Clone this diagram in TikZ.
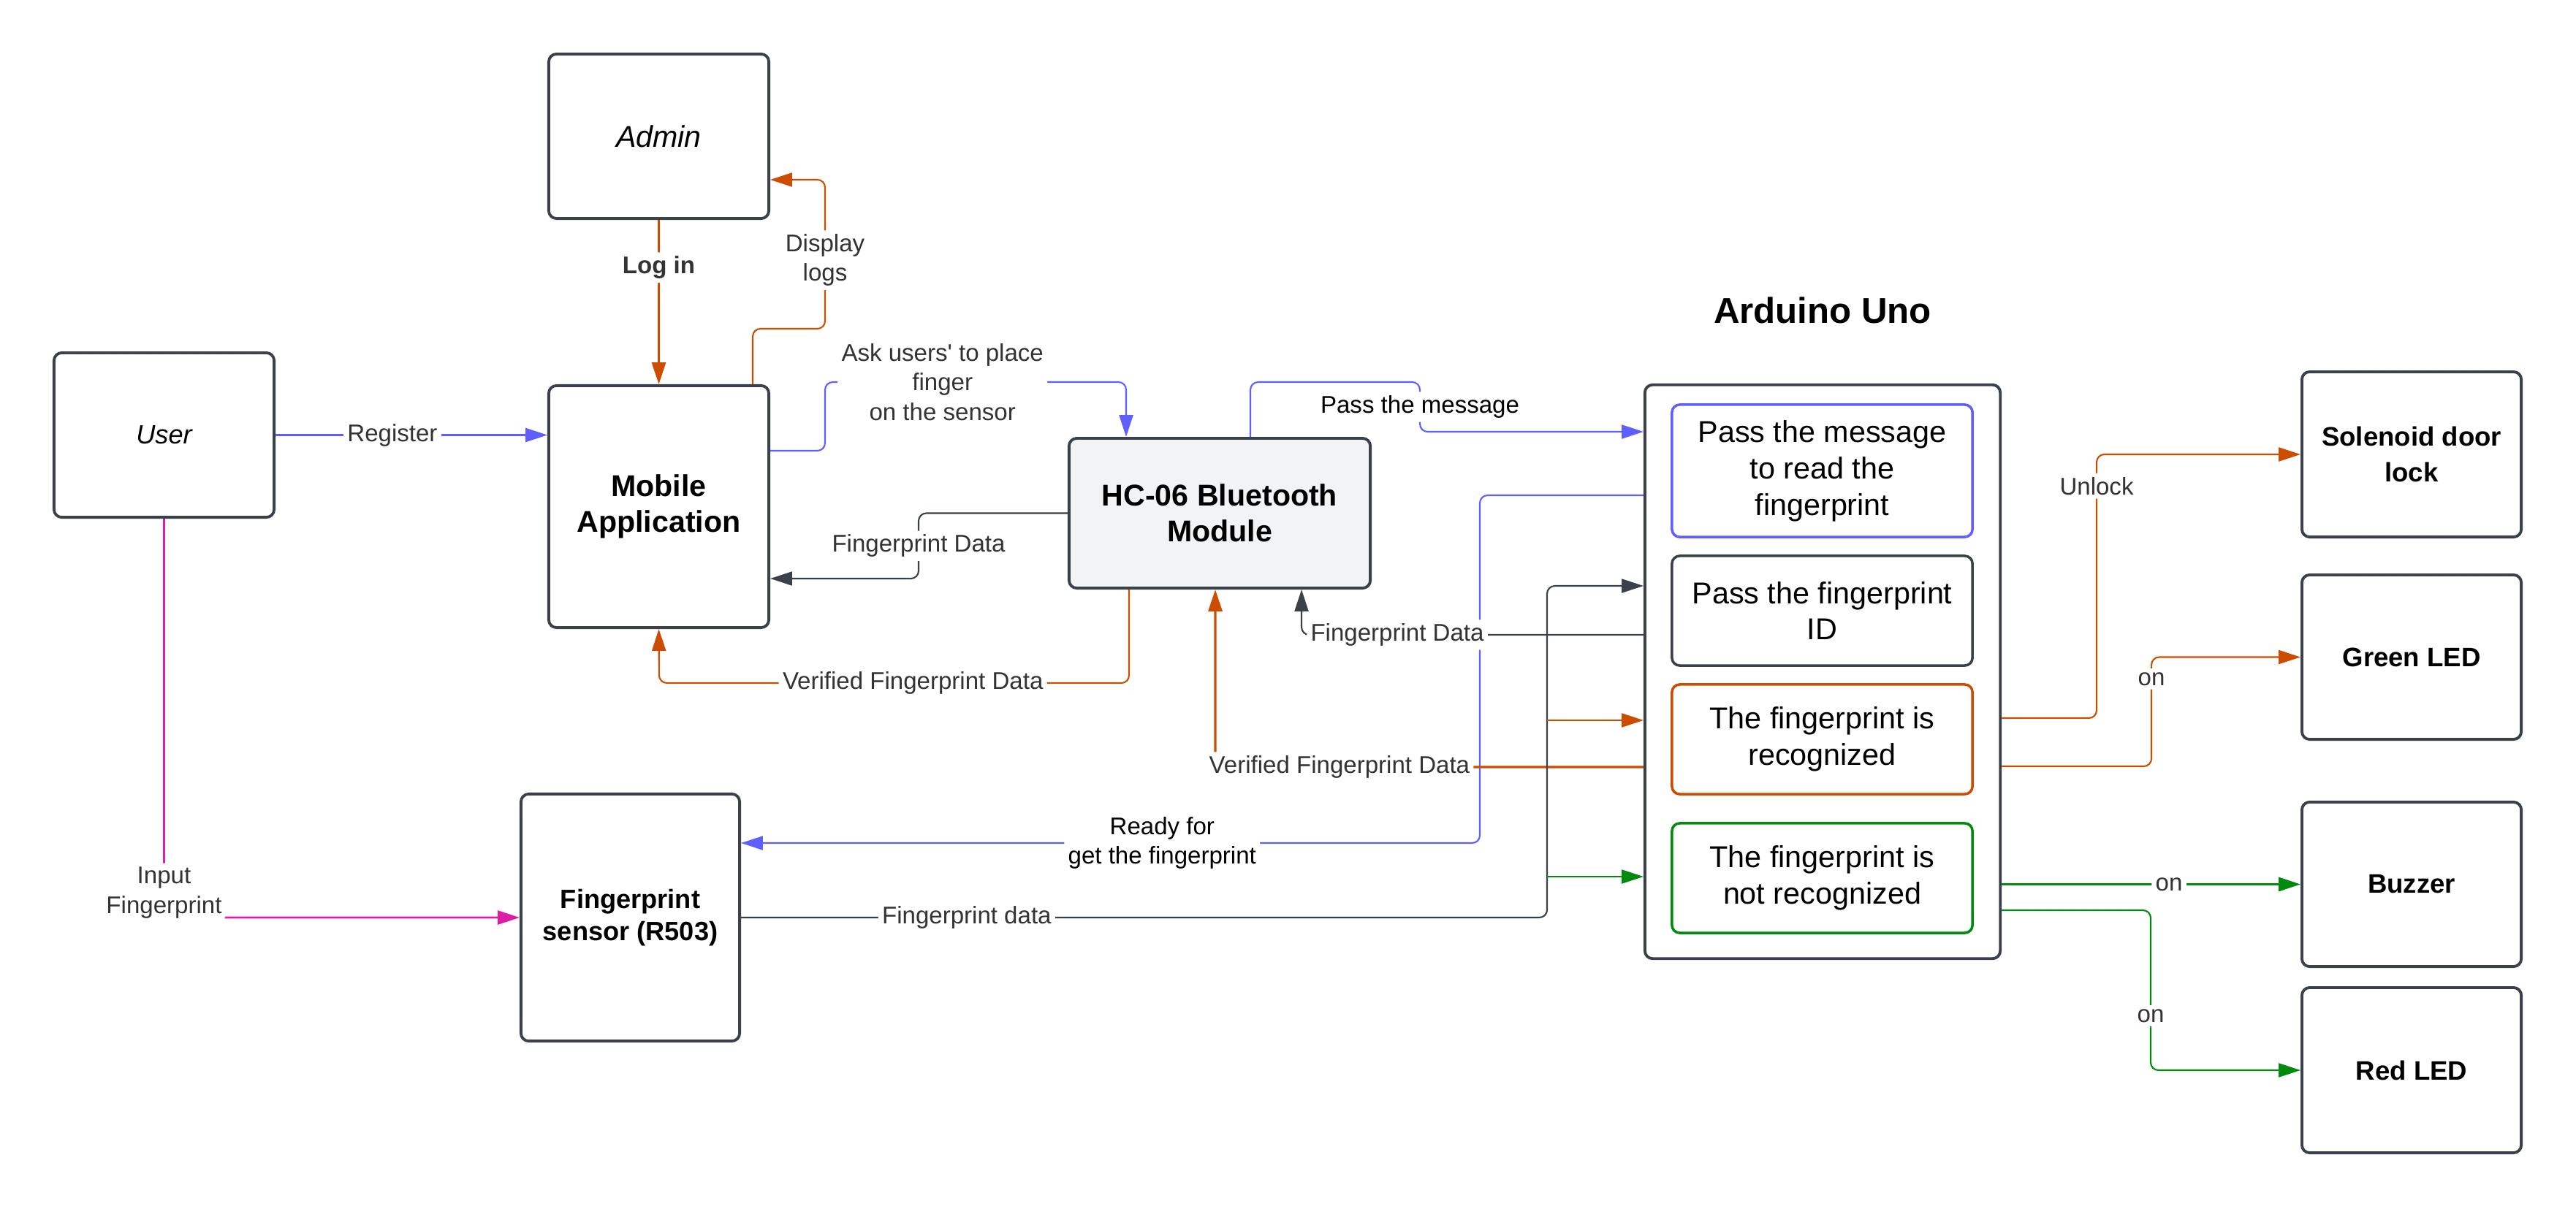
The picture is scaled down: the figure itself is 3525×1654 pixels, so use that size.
\documentclass[tikz,border=0pt]{standalone}
\usepackage{fontspec}
\setmainfont{Liberation Sans}
\usetikzlibrary{arrows.meta}
\definecolor{dfgray}{RGB}{58,65,74}
\definecolor{dfblue}{RGB}{95,95,255}
\definecolor{dforange}{RGB}{204,77,0}
\definecolor{dfgreen}{RGB}{0,138,14}
\definecolor{dfpink}{RGB}{222,30,168}
\definecolor{dffill}{RGB}{242,243,245}
\definecolor{dftext}{RGB}{51,51,51}
\tikzstyle{block} = [draw=dfgray, line width=1.1pt, rounded corners=3pt, align=center, inner sep=2pt]
\tikzstyle{unit} = [block, minimum width=3cm, minimum height=2.25cm, font=\fontsize{10.4}{14}\selectfont\bfseries]
\tikzstyle{stage} = [block, line width=1pt, minimum width=4.11cm, minimum height=1.5cm, font=\fontsize{11.75}{14.2}\selectfont]
\tikzstyle{lbl} = [fill=white, inner sep=1.5pt, text=dftext, align=center, font=\fontsize{9.4}{11.5}\selectfont]
\tikzstyle{link} = [line width=0.6pt, rounded corners=3pt, -{Triangle[length=8.5pt,width=5.4pt]}]

\begin{document}
\begin{tikzpicture}[x=0.01cm, y=-0.01cm]
\useasboundingbox (0,0) rectangle (3525,1654);

% Actors and phone side
\node[block, minimum width=3.01cm, minimum height=2.25cm, font=\fontsize{11.7}{14}\selectfont\itshape] (admin) at (901.5,186.5) {Admin};
\node[block, minimum width=3.01cm, minimum height=2.25cm, font=\fontsize{10.3}{14}\selectfont\itshape] (user) at (224.5,595.5) {User};
\node[block, minimum width=3.01cm, minimum height=3.31cm, font=\fontsize{11.7}{14}\selectfont\bfseries] (mobile) at (901.5,693.5) {Mobile\\Application};
\node[block, fill=dffill, minimum width=4.12cm, minimum height=2.05cm, font=\fontsize{11.7}{14}\selectfont\bfseries] (hc) at (1669,702.5) {HC-06 Bluetooth\\Module};
\node[block, minimum width=2.99cm, minimum height=3.38cm, font=\fontsize{10.3}{12.3}\selectfont\bfseries] (sensor) at (862.5,1256) {Fingerprint\\sensor (R503)};

% Arduino Uno and its stages
\node[font=\fontsize{14}{17}\selectfont\bfseries] (title) at (2494,425) {Arduino Uno};
\node[block, minimum width=4.86cm, minimum height=7.85cm] (arduino) at (2494,919.5) {};
\node[stage, draw=dfblue, minimum height=1.81cm] (msg) at (2493.5,644.5) {Pass the message\\to read the\\fingerprint};
\node[stage] (fpid) at (2493.5,836) {Pass the fingerprint\\ID};
\node[stage, draw=dforange] (match) at (2493.5,1012) {The fingerprint is\\recognized};
\node[stage, draw=dfgreen] (nomatch) at (2493.5,1202) {The fingerprint is\\not recognized};

% Outputs
\node[unit, minimum height=2.26cm] (solenoid) at (3300,622) {Solenoid door\\lock};
\node[unit] (greenled) at (3300,899.5) {Green LED};
\node[unit] (buzzer) at (3300,1210.5) {Buzzer};
\node[unit, minimum height=2.26cm] (redled) at (3300,1465) {Red LED};

% App links
\draw[link, dfblue, line width=0.7pt] (user.east) -- node[lbl, pos=0.43] {Register} (user.east -| mobile.west);
\draw[link, dforange, line width=0.9pt] (admin) -- node[lbl, pos=0.29, font=\fontsize{9.4}{11.5}\selectfont\bfseries] {Log in} (mobile.north);
\draw[link, dforange] (mobile.north -| 1030,0) -- (1030,450) -- (1129,450) -- node[lbl, pos=0.46] {Display\\logs} (1129,246) -- (admin.east |- 0,246);
\draw[link, dfblue] (mobile.east |- 0,617) -- (1129,617) -- (1129,523) -- node[lbl, pos=0.39] {Ask users\textquotesingle{} to place\\finger\\on the sensor} (1541,523) -- (hc.north -| 1541,0);
\draw[link, dfgray] (hc.west) -- (1257,702.5) -- node[lbl] {Fingerprint Data} (1257,792) -- (mobile.east |- 0,792);
\draw[link, dforange] (hc.south -| 1545,0) -- (1545,935) -- node[lbl, pos=0.46] {Verified Fingerprint Data} (902,935) -- (mobile.south);

% Bluetooth and sensor links
\draw[link, dfblue] (hc.north -| 1711,0) -- (1711,523) -- (1943,523) -- node[lbl, text=black] {Pass the message} (1943,591) -- (arduino.west |- 0,591);
\draw[link, dfblue] (arduino.west |- 0,678) -- (2025,678) -- (2025,1154) -- node[lbl, text=black, pos=0.43] {Ready for\\get the fingerprint} (sensor.east |- 0,1154);
\draw[link, dfgray] (arduino.west |- 0,869) -- node[lbl, pos=0.72] {Fingerprint Data} (1781,869) -- (hc.south -| 1781,0);
\draw[link, dforange, line width=0.9pt] (arduino.west |- 0,1050) -- node[lbl, pos=0.71] {Verified Fingerprint Data} (1663,1050) -- (hc.south -| 1663,0);
\draw[link, dfpink, line width=0.8pt] (user.south) -- (224.5,1256) node[lbl, yshift=0.34cm] {Input\\Fingerprint} -- (sensor.west);

% Fingerprint bus into the Arduino
\coordinate (tapmatch) at (2117,986);
\coordinate (tapnomatch) at (2117,1200);
\draw[link, dfgray] (sensor.east) -- node[lbl, pos=0.28] {Fingerprint data} (2117,1256) -- (2117,802) -- (arduino.west |- 0,802);
\draw[link, dforange] (tapmatch) -- (arduino.west |- tapmatch);
\draw[link, dfgreen] (tapnomatch) -- (arduino.west |- tapnomatch);

% Arduino outputs
\draw[link, dforange] (arduino.east |- 0,983) -- (2869,983) -- node[lbl, pos=0.88] {Unlock} (2869,622) -- (solenoid.west);
\draw[link, dforange] (arduino.east |- 0,1049) -- (2944,1049) -- node[lbl, pos=0.8] {on} (2944,899.5) -- (greenled.west);
\draw[link, dfgreen, line width=0.9pt] (arduino.east |- buzzer) -- node[lbl, pos=0.56] {on} (buzzer.west);
\draw[link, dfgreen] (arduino.east |- 0,1246) -- (2943,1246) -- node[lbl, pos=0.66] {on} (2943,1465) -- (redled.west);
\end{tikzpicture}
\end{document}
